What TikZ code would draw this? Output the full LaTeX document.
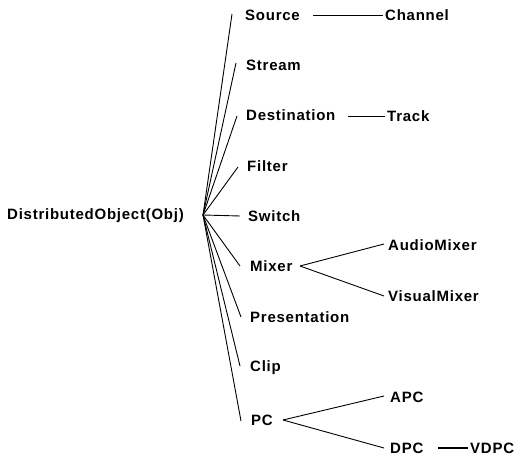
\documentclass[tikz,border=0pt]{standalone}
\usepackage{fontspec}
\newfontfamily\labfont{Liberation Sans}[LetterSpace=5]
\begin{document}
\begin{tikzpicture}[x=1pt,y=-1pt,
  lab/.style={anchor=west,inner sep=0pt,font=\labfont\bfseries\fontsize{15pt}{17pt}\selectfont,text height=10.5pt,text depth=0pt},
  link/.style={line width=0.9pt,black},
  thick link/.style={line width=1.8pt,black}]
\useasboundingbox (0,0) rectangle (523,458);
\node[lab] (obj) at (7,214) {DistributedObject(Obj)};
\coordinate (hub) at (203,215);
\node[lab] (src) at (245,15) {Source};
\node[lab] (chan) at (385,15) {Channel};
\node[lab] (strm) at (246,65) {Stream};
\node[lab] (dest) at (246,115) {Destination};
\node[lab] (trk) at (387,116) {Track};
\node[lab] (filt) at (247,166) {Filter};
\node[lab] (sw) at (248,216) {Switch};
\node[lab] (mix) at (250,266) {Mixer};
\node[lab] (amix) at (388,245) {AudioMixer};
\node[lab] (vmix) at (388,296) {VisualMixer};
\node[lab] (pres) at (250,317) {Presentation};
\node[lab] (clip) at (250,366) {Clip};
\node[lab] (pc) at (251,420) {PC};
\node[lab] (apc) at (390,397) {APC};
\node[lab] (dpc) at (390,448) {DPC};
\node[lab] (vdpc) at (470,448) {VDPC};
% fan from the hub
\draw[link] (hub) -- ([xshift=-13pt,yshift=1pt]src.west);
\draw[link] (hub) -- ([xshift=-10pt,yshift=2pt]strm.west);
\draw[link] (hub) -- ([xshift=-9pt,yshift=-1pt]dest.west);
\draw[link] (hub) -- ([xshift=-9pt,yshift=-1pt]filt.west);
\draw[link] (hub) -- ([xshift=-8pt]sw.west);
\draw[link] (hub) -- ([xshift=-10pt]mix.west);
\draw[link] (hub) -- ([xshift=-9pt]pres.west);
\draw[link] (hub) -- ([xshift=-10pt]clip.west);
\draw[link] (hub) -- ([xshift=-10pt,yshift=-1pt]pc.west);
% sub-links
\draw[link] (313,15) coordinate (sc1) (sc1) -- ([xshift=-2pt]chan.west);
\draw[link] (348,116) coordinate (dt1) (dt1) -- ([xshift=-2pt]trk.west);
\coordinate (mx) at (300,266);
\draw[link] (mx) -- ([xshift=-4pt,yshift=1pt]amix.west);
\draw[link] (mx) -- ([xshift=-4pt]vmix.west);
\coordinate (pcx) at (283,420);
\draw[link] (pcx) -- ([xshift=-6pt,yshift=1pt]apc.west);
\draw[link] (pcx) -- ([xshift=-6pt]dpc.west);
\coordinate (dv) at (438,448);
\draw[thick link] (dv) -- ([xshift=-2pt]vdpc.west);
\end{tikzpicture}
\end{document}
